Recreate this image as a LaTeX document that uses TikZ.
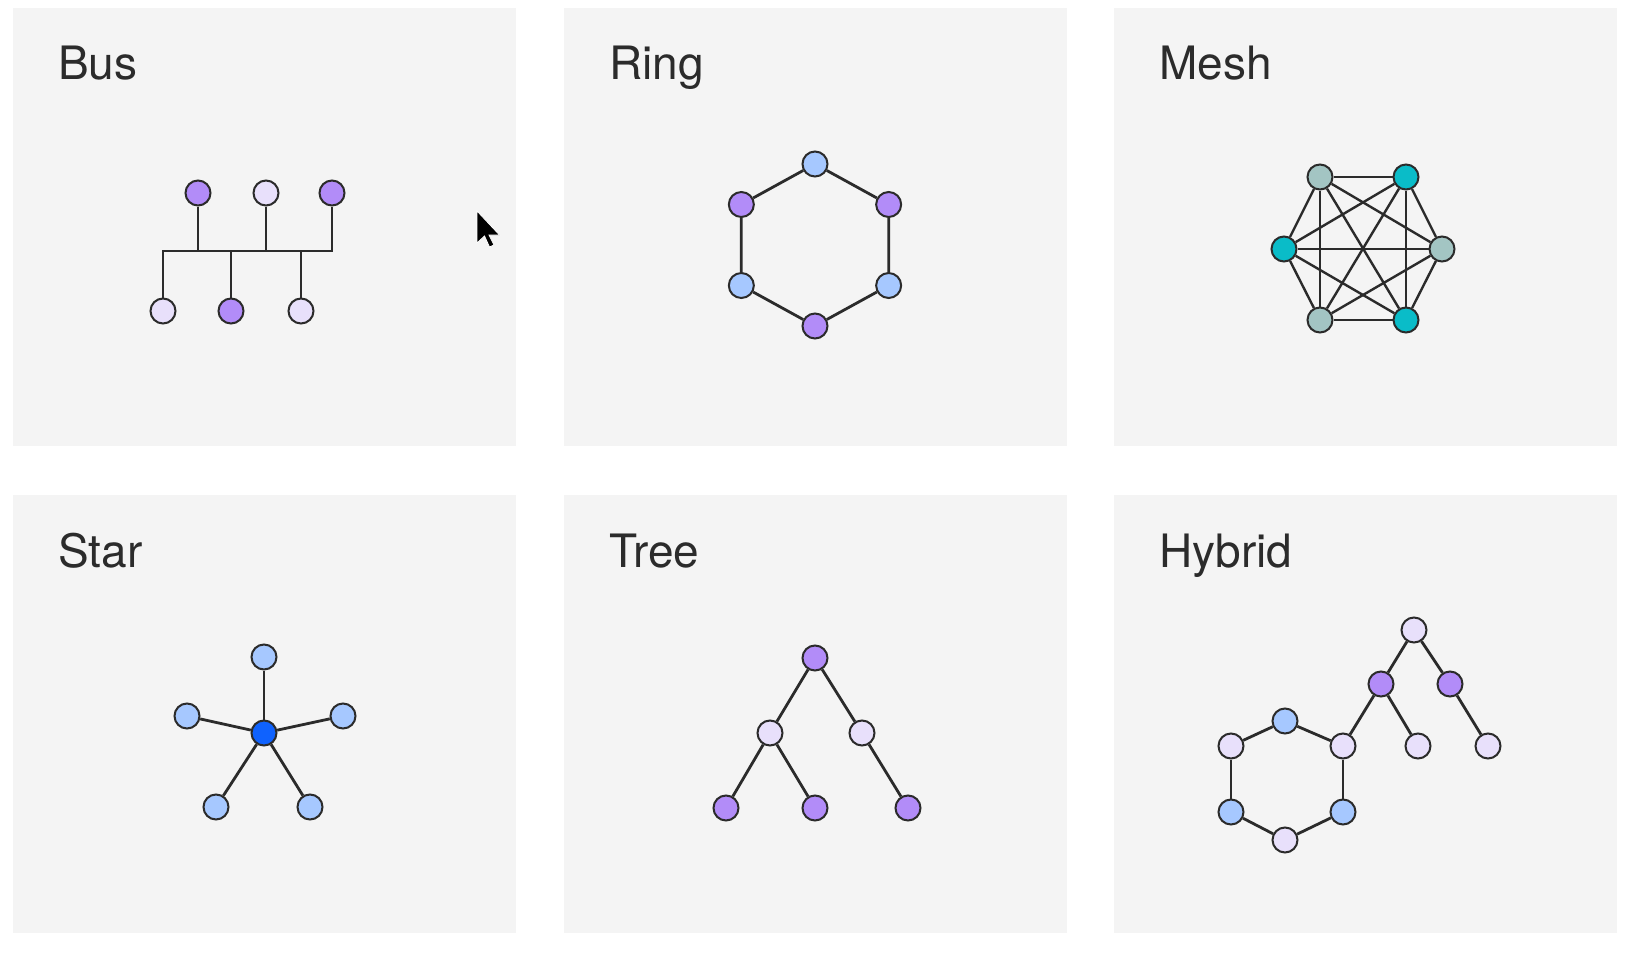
\documentclass[tikz,border=0pt]{standalone}
\usepackage{fontspec}
\setmainfont{TeX Gyre Heros}
\definecolor{panelbg}{HTML}{F4F4F4}
\definecolor{inkgray}{HTML}{2B2B2B}
\definecolor{pur}{HTML}{B28CF8}
\definecolor{lav}{HTML}{E8E0FB}
\definecolor{blu}{HTML}{A6C8FF}
\definecolor{hub}{HTML}{0F62FE}
\definecolor{cyn}{HTML}{0ABCC8}
\definecolor{sag}{HTML}{A3C5C3}
\tikzset{
  dev/.style={draw=inkgray, line width=2pt, circle, minimum size=25pt, inner sep=0pt},
  link/.style={draw=inkgray, line width=2.8pt},
  title/.style={anchor=base west, inner sep=0pt, text=inkgray, font=\fontsize{46}{50}\selectfont}
}
\begin{document}
\begin{tikzpicture}[x=1pt, y=-1pt]
\useasboundingbox[fill=white] (0,0) rectangle (1628,955);

% panels
\foreach \px/\py/\name in {13/8/Bus, 564/8/Ring, 1114/8/Mesh, 13/495/Star, 564/495/Tree, 1114/495/Hybrid} {
  \fill[panelbg] (\px,\py) rectangle ++(503,438);
  \node[title] (t-\name) at (\px+45,\py+72) {\name};
}

% --- BUS ---
\node[dev, fill=pur] (b-t1) at (198,193) {};
\node[dev, fill=lav] (b-t2) at (266,193) {};
\node[dev, fill=pur] (b-t3) at (332,193) {};
\node[dev, fill=lav] (b-b1) at (163,311) {};
\node[dev, fill=pur] (b-b2) at (231,311) {};
\node[dev, fill=lav] (b-b3) at (301,311) {};
\coordinate (bus-r) at (332,251);
% backbone
\draw[link] (b-b1) |- (bus-r) -- (b-t3);
\foreach \n in {b-t1, b-t2, b-b2, b-b3}
  \draw[link] (\n) -- (\n |- bus-r);

% cursor
\fill[black, draw=white, line width=0.8pt] (477,211) -- ++(0,32) -- ++(7.5,-7) -- ++(5,11) -- ++(4.5,-2) -- ++(-5,-10) -- ++(10.5,0) -- cycle;

% --- RING ---
\begin{scope}[shift={(815,245)}, xscale=1.05]
  \foreach \a/\c [count=\i] in {-90/blu, -30/pur, 30/blu, 90/pur, 150/blu, 210/pur}
    \node[dev, fill=\c] (r-\i) at (\a:81) {};
  \foreach \i [evaluate=\i as \j using {int(mod(\i,6)+1)}] in {1,...,6}
    \draw[link] (r-\i) -- (r-\j);
\end{scope}

% --- MESH ---
\begin{scope}[shift={(1363,249)}]
  \foreach \x/\y/\c [count=\i] in {-43/-72/sag, 43/-72/cyn, 79/0/sag, 43/71/cyn, -43/71/sag, -79/0/cyn}
    \node[dev, fill=\c] (m-\i) at (\x,\y) {};
  \foreach \i [evaluate=\i as \k using {int(\i+1)}] in {1,...,5}
    \foreach \j in {\k,...,6}
      \draw[link, line width=2.4pt] (m-\i) -- (m-\j);
\end{scope}

% --- STAR ---
\node[dev, fill=hub] (s-0) at (264,733) {};
\foreach \x/\y [count=\i] in {264/657, 187/716, 343/716, 216/807, 310/807} {
  \node[dev, fill=blu] (s-\i) at (\x,\y) {};
  \draw[link] (s-0) -- (s-\i);
}

% --- TREE ---
\node[dev, fill=pur] (tr-root) at (815,658) {};
\node[dev, fill=lav] (tr-l) at (770,733) {};
\node[dev, fill=lav] (tr-r) at (862,733) {};
\node[dev, fill=pur] (tr-ll) at (726,808) {};
\node[dev, fill=pur] (tr-lr) at (815,808) {};
\node[dev, fill=pur] (tr-rr) at (908,808) {};
\draw[link] (tr-ll) -- (tr-l) -- (tr-root) -- (tr-r) -- (tr-rr);
\draw[link] (tr-l) -- (tr-lr);

% --- HYBRID ---
% ring part
\foreach \x/\y/\c [count=\i] in {1285/721/blu, 1343/746/lav, 1343/812/blu, 1285/840/lav, 1231/812/blu, 1231/746/lav}
  \node[dev, fill=\c] (h-\i) at (\x,\y) {};
\foreach \i [evaluate=\i as \j using {int(mod(\i,6)+1)}] in {1,...,6}
  \draw[link] (h-\i) -- (h-\j);
% tree part
\node[dev, fill=lav] (h-root) at (1414,630) {};
\node[dev, fill=pur] (h-m1) at (1381,684) {};
\node[dev, fill=pur] (h-m2) at (1450,684) {};
\node[dev, fill=lav] (h-l1) at (1418,746) {};
\node[dev, fill=lav] (h-l2) at (1488,746) {};
\draw[link] (h-2) -- (h-m1) -- (h-root) -- (h-m2) -- (h-l2);
\draw[link] (h-m1) -- (h-l1);
\end{tikzpicture}
\end{document}
